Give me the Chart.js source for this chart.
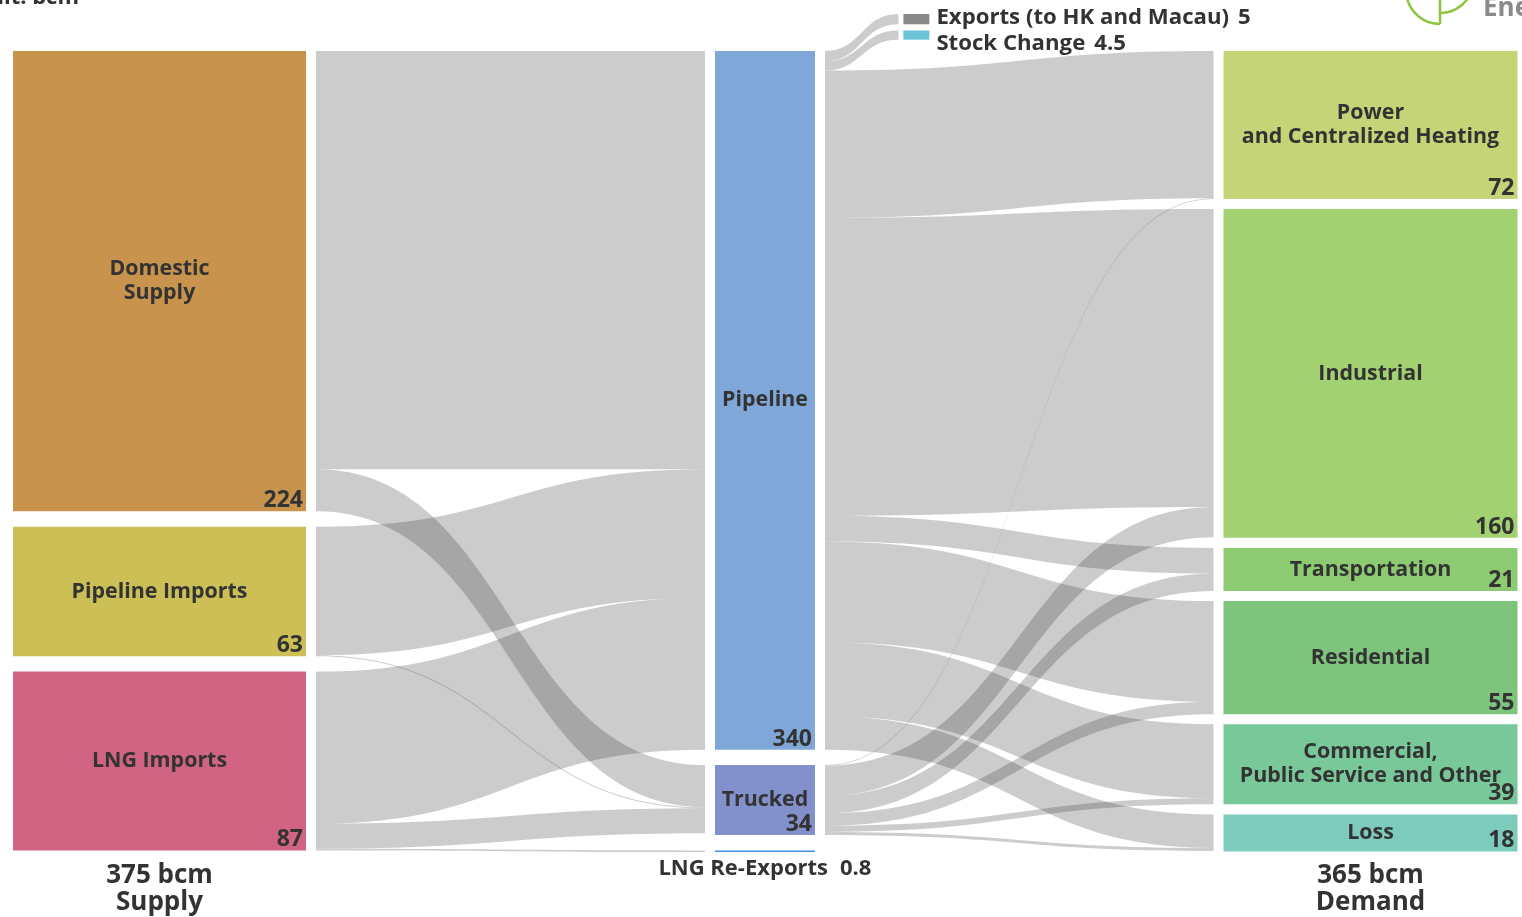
<!DOCTYPE html>
<html>
<head>
<meta charset="utf-8">
<title>China Natural Gas Flow</title>
<style>
  html, body { margin: 0; padding: 0; background: #ffffff; }
  #wrap { width: 1522px; height: 917px; position: relative; }
  canvas { display: block; }
</style>
<script src="https://cdn.jsdelivr.net/npm/chart.js@4/dist/chart.umd.min.js"></script>
</head>
<body>
<div id="wrap"><canvas id="flow" width="1522" height="917"></canvas></div>
<script>
// ---- Data (bcm) ----
const supplyNames = ['Domestic\nSupply', 'Pipeline Imports', 'LNG Imports'];
const supplyValues = [224, 63, 87];

const transportNames = ['Pipeline', 'Trucked', 'LNG Re-Exports'];
const transportValues = [340, 34, 0.8];

const demandNames = ['Power\nand Centralized Heating', 'Industrial', 'Transportation', 'Residential', 'Commercial,\nPublic Service and Other', 'Loss'];
const demandValues = [72, 160, 21, 55, 39, 18];

const outflowNames = ['Exports (to HK and Macau)', 'Stock Change'];
const outflowValues = [5, 4.5];

// supply -> transport flows (rows: Domestic, Pipeline Imports, LNG Imports; cols: Pipeline, Trucked, LNG Re-Exports)
const supplyToTransport = [
  [203.5, 20.5, 0],
  [62.5, 0.5, 0],
  [74, 12.2, 0.8]
];
// transport -> demand flows (in demand order)
const pipelineToDemand = [71.7, 145, 12.5, 49, 36, 16.3];
const truckedToDemand = [0.3, 14.7, 8.5, 6, 3, 1.5];
// pipeline -> exports / stock change
const pipelineToOutflow = [5, 4.5];

const totalSupply = 375;
const totalDemand = 365;

// ---- Layout / style ----
const PX_PER_BCM = 2.055;
const TOP_PX = 51;
const CANVAS_W = 1522, CANVAS_H = 917;
const COL_SPACING_PX = 605.5, FIRST_COL_PX = 159.5;

const supplyColors = ['#c8934d', '#ccbf56', '#d26483'];
const transportColors = ['#7fa8d8', '#8290cb', '#3f8fe0'];
const demandColors = ['#c5d476', '#a1d170', '#8ccb72', '#7ec47c', '#79c899', '#7ccbbd'];
const outflowColors = ['#8a8a8a', '#6cc3d6'];
const LINK_COLOR = 'rgba(55,55,55,0.255)';
const TEXT_COLOR = '#333333';
const FONT_FAMILY = "'Open Sans', 'Noto Sans', sans-serif";

function stackSpans(values, gap) {
  let acc = 0;
  return values.map(v => { const s = acc; acc += v + gap; return [s, s + v]; });
}
const supplySpans = stackSpans(supplyValues, 7.5);
const transportSpans = stackSpans(transportValues, 7.5);
const demandSpans = stackSpans(demandValues, 4.9);
const outflowTops = [-18, -10];
const outflowSpans = outflowValues.map((v, i) => [outflowTops[i], outflowTops[i] + v]);

// column positions on the x scale
const COL = { supply: 0, transport: 1, outflow: 1.25, demand: 2 };

function nodeDataset(label, col, spans, colors, thickness) {
  return {
    type: 'bar',
    label: label,
    data: spans.map(s => ({ x: col, y: s })),
    backgroundColor: colors,
    borderWidth: 0,
    barThickness: thickness,
    grouped: false,
    inflateAmount: 0
  };
}

const datasets = [
  nodeDataset('supply', COL.supply, supplySpans, supplyColors, 293),
  nodeDataset('transport', COL.transport, transportSpans, transportColors, 100),
  nodeDataset('demand', COL.demand, demandSpans, demandColors, 294),
  nodeDataset('outflow', COL.outflow, outflowSpans, outflowColors, 26)
];

// links: [sourceDataset, sourceIndex, targetDataset, targetIndex, value]
const links = [];
supplyToTransport.forEach((row, i) => row.forEach((v, j) => { if (v > 0) links.push([0, i, 1, j, v]); }));
pipelineToOutflow.forEach((v, j) => links.push([1, 0, 3, j, v]));
pipelineToDemand.forEach((v, j) => links.push([1, 0, 2, j, v]));
truckedToDemand.forEach((v, j) => links.push([1, 1, 2, j, v]));

function band(ctx, x0, a0, a1, x1, b0, b1) {
  const xm = (x0 + x1) / 2;
  ctx.beginPath();
  ctx.moveTo(x0, a0);
  ctx.bezierCurveTo(xm, a0, xm, b0, x1, b0);
  ctx.lineTo(x1, b1);
  ctx.bezierCurveTo(xm, b1, xm, a1, x0, a1);
  ctx.closePath();
  ctx.fill();
}

const spansByDataset = [supplySpans, transportSpans, demandSpans, outflowSpans];

const flowLinks = {
  id: 'flowLinks',
  beforeDatasetsDraw(chart) {
    const ctx = chart.ctx;
    const ys = chart.scales.y;
    const outAcc = spansByDataset.map(s => s.map(() => 0));
    const inAcc = spansByDataset.map(s => s.map(() => 0));
    ctx.save();
    ctx.fillStyle = LINK_COLOR;
    links.forEach(([sd, si, td, ti, v]) => {
      const sEl = chart.getDatasetMeta(sd).data[si];
      const tEl = chart.getDatasetMeta(td).data[ti];
      const x0 = sEl.x + sEl.width / 2 + 10;
      const x1 = tEl.x - tEl.width / 2 - (td === 3 ? 5 : 10);
      const sTop = spansByDataset[sd][si][0] + outAcc[sd][si];
      const tTop = spansByDataset[td][ti][0] + inAcc[td][ti];
      outAcc[sd][si] += v;
      inAcc[td][ti] += v;
      band(ctx, x0,
        ys.getPixelForValue(sTop), ys.getPixelForValue(sTop + v),
        x1,
        ys.getPixelForValue(tTop), ys.getPixelForValue(tTop + v));
    });
    ctx.restore();
  }
};

function font(size) { return 'bold ' + size + 'px ' + FONT_FAMILY; }

const flowLabels = {
  id: 'flowLabels',
  afterDatasetsDraw(chart) {
    const ctx = chart.ctx;
    ctx.save();
    ctx.fillStyle = TEXT_COLOR;

    const nodeText = (dsIndex, names, values, skip) => {
      chart.getDatasetMeta(dsIndex).data.forEach((el, i) => {
        if (skip && skip(i)) return;
        const top = Math.min(el.y, el.base), bottom = Math.max(el.y, el.base);
        const right = el.x + el.width / 2;
        const lines = names[i].split('\n');
        const lh = 24;
        const cy = (top + bottom) / 2;
        ctx.font = font(21.4);
        ctx.textAlign = 'center';
        ctx.textBaseline = 'middle';
        lines.forEach((ln, k) => ctx.fillText(ln, el.x, cy + (k - (lines.length - 1) / 2) * lh));
        ctx.font = font(23);
        ctx.textAlign = 'right';
        ctx.textBaseline = 'alphabetic';
        ctx.fillText(String(values[i]), right - 3, bottom - 4);
      });
    };
    nodeText(0, supplyNames, supplyValues);
    nodeText(1, transportNames, transportValues, i => i === 2);
    nodeText(2, demandNames, demandValues);

    // LNG re-exports label under its node
    const re = chart.getDatasetMeta(1).data[2];
    ctx.font = font(22);
    ctx.textBaseline = 'middle';
    ctx.textAlign = 'right';
    ctx.fillText(transportNames[2], re.x + 63, 869);
    ctx.textAlign = 'left';
    ctx.fillText(String(transportValues[2]), re.x + 75, 869);

    // exports / stock change labels
    const outflowBaselineShift = [0, 10];
    chart.getDatasetMeta(3).data.forEach((el, i) => {
      const bottom = Math.max(el.y, el.base);
      const x = el.x + el.width / 2 + 7;
      ctx.font = font(22.2);
      ctx.textAlign = 'left';
      ctx.textBaseline = 'alphabetic';
      ctx.fillText(outflowNames[i], x, bottom + outflowBaselineShift[i]);
      const w = ctx.measureText(outflowNames[i]).width;
      ctx.fillText(String(outflowValues[i]), x + w + 9, bottom + outflowBaselineShift[i]);
    });

    // column totals
    const s0 = chart.getDatasetMeta(0).data[0];
    const d0 = chart.getDatasetMeta(2).data[0];
    ctx.font = font(26);
    ctx.textAlign = 'center';
    ctx.textBaseline = 'middle';
    ctx.fillText(totalSupply + ' bcm', s0.x, 876);
    ctx.fillText('Supply', s0.x, 903);
    ctx.fillText(totalDemand + ' bcm', d0.x, 876);
    ctx.fillText('Demand', d0.x, 903);

    // unit note (top-left)
    ctx.font = font(22);
    ctx.textAlign = 'right';
    ctx.textBaseline = 'alphabetic';
    ctx.fillText('Unit: bcm', 79, 4);

    // brand mark (top-right)
    ctx.strokeStyle = '#8cc63f';
    ctx.lineWidth = 2.5;
    ctx.beginPath();
    ctx.arc(1440, -10, 34, 0.5 * Math.PI, 0.94 * Math.PI);
    ctx.stroke();
    ctx.beginPath();
    ctx.moveTo(1440, -2);
    ctx.lineTo(1440, 24);
    ctx.stroke();
    ctx.beginPath();
    ctx.arc(1440, -21, 34, 0.18 * Math.PI, 0.5 * Math.PI);
    ctx.stroke();
    ctx.fillStyle = '#8a8a8a';
    ctx.font = font(26);
    ctx.textAlign = 'left';
    ctx.fillText('Ene', 1483, 16);
    ctx.restore();
  }
};

new Chart(document.getElementById('flow'), {
  type: 'bar',
  data: { datasets: datasets },
  options: {
    responsive: false,
    animation: false,
    devicePixelRatio: 1,
    events: [],
    layout: { padding: 0 },
    plugins: { legend: { display: false }, tooltip: { enabled: false } },
    scales: {
      x: {
        type: 'linear',
        display: false,
        offset: false,
        min: -FIRST_COL_PX / COL_SPACING_PX,
        max: (CANVAS_W - FIRST_COL_PX) / COL_SPACING_PX
      },
      y: {
        type: 'linear',
        display: false,
        reverse: true,
        beginAtZero: false,
        min: -TOP_PX / PX_PER_BCM,
        max: (CANVAS_H - TOP_PX) / PX_PER_BCM
      }
    }
  },
  plugins: [flowLinks, flowLabels]
});
</script>
</body>
</html>
